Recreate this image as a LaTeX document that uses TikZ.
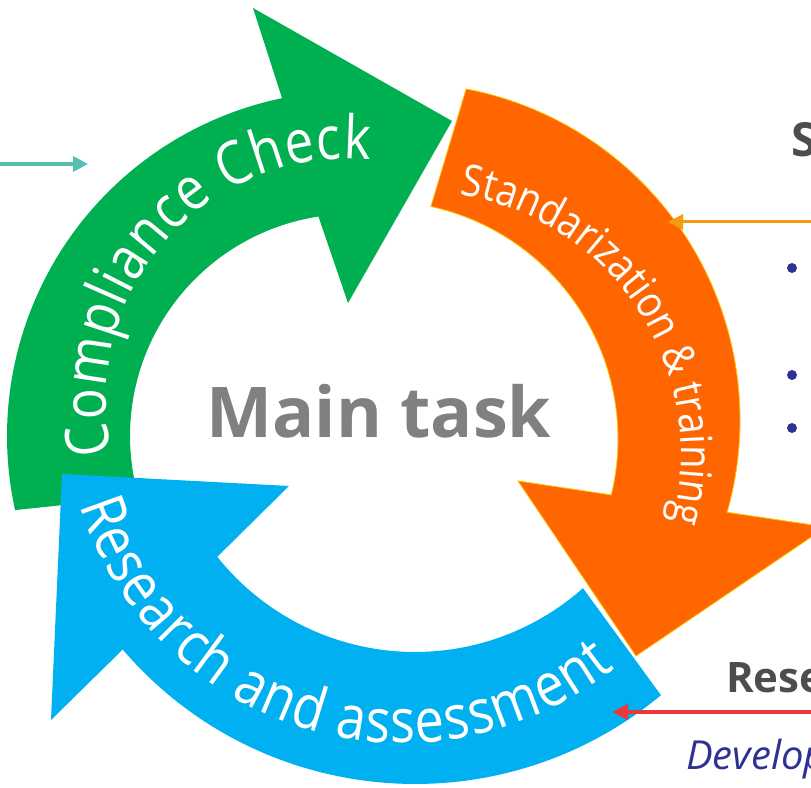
\documentclass[tikz,border=0pt]{standalone}
\usepackage{fontspec}
\setmainfont{Open Sans}
\newfontfamily\arcfont[FakeStretch=0.86]{Open Sans}
\usetikzlibrary{calc,decorations.text,arrows.meta}
\definecolor{cgreen}{HTML}{00B050}
\definecolor{corange}{HTML}{FF6600}
\definecolor{cgold}{HTML}{FFC000}
\definecolor{cblue}{HTML}{00B0F0}
\definecolor{cgray}{HTML}{808080}
\definecolor{cdark}{HTML}{4D4D4D}
\definecolor{cnavy}{HTML}{2E3192}
\definecolor{cteal}{HTML}{55C0B0}
\definecolor{camber}{HTML}{F39C12}
\definecolor{cred}{HTML}{E8383D}
\begin{document}
\begin{tikzpicture}[x=1pt,y=1pt,
  arctext/.style={decorate, decoration={text along path, text align={fit to path}}},
  conn/.style={line width=3pt, -{Triangle[length=15pt,width=15pt]}},
  sidetext/.style={anchor=base west, inner sep=0pt},
  bullet/.style={fill=cnavy}
]
\useasboundingbox (0,0) rectangle (811,787);
\coordinate (G) at (352,351);
\coordinate (O) at (403,367);
\coordinate (Oi) at (380,348);
\coordinate (B) at (415,388);
\coordinate (C1) at (347,387);
\coordinate (C2) at (420,334);
\coordinate (C3) at (403,382);

% green arrow
\fill[cgreen] ($(G)+(192.4:345)$) arc[start angle=192.4,end angle=101.7,radius=345]
  -- (253,779) -- (452,666) -- (348,484)
  -- ($(G)+(98.7:222)$) arc[start angle=98.7,end angle=196,radius=222] -- cycle;
% blue arrow
\fill[cblue] ($(B)+(-50.3:385)$) arc[start angle=-50.3,end angle=-139.4,radius=385]
  -- (51,67) -- (62,313) -- (289,301)
  -- ($(B)+(-141.4:253)$) arc[start angle=-141.4,end angle=-48.4,radius=253] -- cycle;
% orange arrow
\filldraw[fill=corange, draw=cgold, line width=0.8pt]
  ($(O)+(79.2:337)$) arc[start angle=79.2,end angle=-15.9,radius=337]
  -- (826,260) -- (636,131) -- (518,306)
  -- ($(Oi)+(-13.6:238)$) arc[start angle=-13.6,end angle=77.65,radius=238] -- cycle;

% curved texts
\path[arctext, decoration={text={|\arcfont\fontsize{60}{60}\selectfont\color{white}|Compliance Check}}]
  ($(C1)+(192.7:241)$) arc[start angle=192.7,end angle=84.5,radius=241];
\path[arctext, decoration={text={|\arcfont\fontsize{44}{44}\selectfont\color{white}|Standarization {\&} training}}]
  ($(C2)+(81.2:261)$) arc[start angle=81.2,end angle=-14.2,radius=261];
\path[arctext, decoration={text={|\arcfont\fontsize{61}{61}\selectfont\color{white}|Research and assessment}}]
  ($(C3)+(197.2:338)$) arc[start angle=197.2,end angle=308.9,radius=338];

% centre text
\node[font=\bfseries\fontsize{70}{70}\selectfont, text=cgray, anchor=base, inner sep=0pt] (main) at (379,349) {Main task};

% right side texts
\node[sidetext, font=\bfseries\fontsize{47}{47}\selectfont, text=cdark] (stitle) at (791,630) {S};
\node[sidetext, font=\bfseries\fontsize{42}{42}\selectfont, text=cdark] (rtitle) at (726,94) {Rese};
\node[sidetext, font=\itshape\fontsize{40}{40}\selectfont, text=cnavy] (dev) at (686,17) {Develop};
\fill[bullet] (792,519) circle[radius=5];
\fill[bullet] (792,412) circle[radius=5];
\fill[bullet] (792,359) circle[radius=5];

% connectors
\coordinate (tealstart) at (0,623);
\coordinate (tealend) at (88,623);
\coordinate (ambstart) at (811,565);
\coordinate (ambend) at (668,565);
\coordinate (redstart) at (811,75);
\coordinate (redend) at (612,75);
\draw[conn, cteal, line width=3.5pt] (tealstart) -- (tealend);
\draw[conn, camber] (ambstart) -- (ambend);
\draw[conn, cred, line width=4pt, -{Triangle[length=16pt,width=15pt]}] (redstart) -- (redend);
\end{tikzpicture}
\end{document}
